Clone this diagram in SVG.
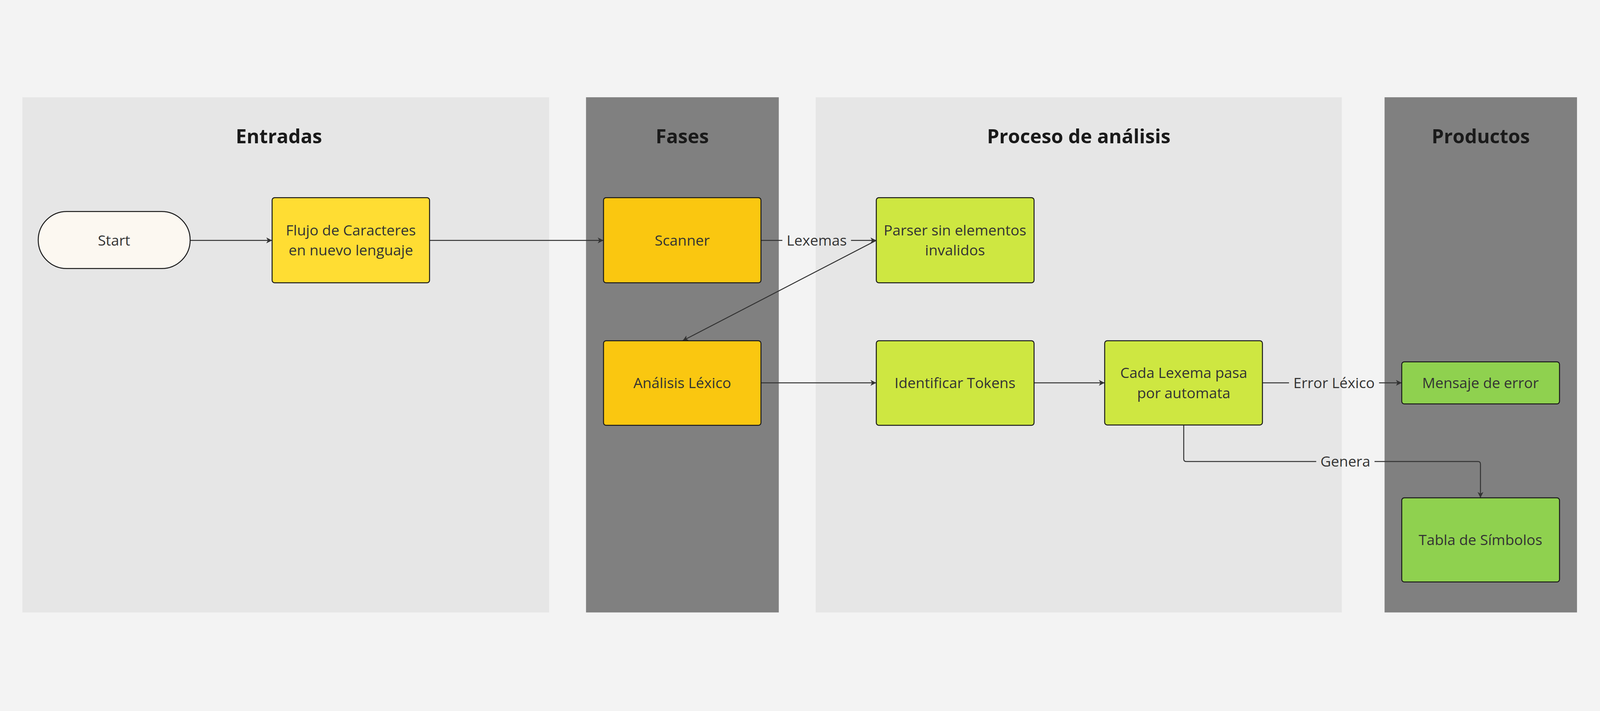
<svg xmlns="http://www.w3.org/2000/svg" width="4939" height="1821" viewBox="0 0 4939 1821">
<style>
svg{width:100vw;height:100vh}
.lane-l{fill:#e6e6e6}
.lane-d{fill:#808080}
.title{font-family:"Open Sans","Noto Sans",sans-serif;font-weight:700;font-size:60px;fill:#1a1a1a;text-anchor:middle}
.node{stroke:#1a1a1a;stroke-width:3}
.txt{font-family:"Open Sans","Noto Sans",sans-serif;font-size:45px;fill:#333333;text-anchor:middle}
.edge{fill:none;stroke:#333333;stroke-width:3}
.lbl{font-family:"Open Sans","Noto Sans",sans-serif;font-size:45px;fill:#333333;text-anchor:middle}
</style>
<defs>
<marker id="arr" markerUnits="userSpaceOnUse" markerWidth="20" markerHeight="20" refX="18" refY="9" orient="auto" viewBox="0 0 20 18">
<path d="M0,0 L18,9 L0,18 L5,9 Z" fill="#333333"/>
</marker>
</defs>
<rect x="-1000" y="-1000" width="6939" height="3821" fill="#f3f3f3"/>
<g id="lanes">
<rect class="lane-l" x="69" y="113" width="1626" height="1591"/>
<rect class="lane-d" x="1809" y="113" width="595" height="1591"/>
<rect class="lane-l" x="2518" y="113" width="1624" height="1591"/>
<rect class="lane-d" x="4274" y="113" width="594" height="1591"/>
<text class="title" x="861" y="255">Entradas</text>
<text class="title" x="2106" y="255">Fases</text>
<text class="title" x="3330" y="255">Proceso de análisis</text>
<text class="title" x="4571" y="255">Productos</text>
</g>
<g id="connectors">
<path class="edge" d="M587,555 L840,555" marker-end="url(#arr)"/>
<path class="edge" d="M1326,555 L1863,555" marker-end="url(#arr)"/>
<path class="edge" d="M2349,555 L2415,555"/>
<path class="edge" d="M2627,555 L2705,555" marker-end="url(#arr)"/>
<text class="lbl" x="2521" y="571">Lexemas</text>
<path class="edge" d="M2705,555 L2107,865" marker-end="url(#arr)"/>
<path class="edge" d="M2349,995 L2705,995" marker-end="url(#arr)"/>
<path class="edge" d="M3192,995 L3410,995" marker-end="url(#arr)"/>
<path class="edge" d="M3897,995 L3979,995"/>
<path class="edge" d="M4257,995 L4327,995" marker-end="url(#arr)"/>
<text class="lbl" x="4118" y="1011">Error Léxico</text>
<path class="edge" d="M3654,1125 L3654,1230 Q3654,1238 3662,1238 L4063,1238"/>
<path class="edge" d="M4243,1238 L4562,1238 Q4570,1238 4570,1246 L4570,1350" marker-end="url(#arr)"/>
<text class="lbl" x="4153" y="1254">Genera</text>
</g>
<g id="start">
<rect class="node" x="118" y="466" width="469" height="176" rx="88" fill="#fcf8f1"/>
<text class="txt" x="352" y="571">Start</text>
</g>
<g id="flujo">
<rect class="node" x="840" y="423" width="486" height="263" rx="8" fill="#ffdd33"/>
<text class="txt" x="1083" y="540">Flujo de Caracteres</text>
<text class="txt" x="1083" y="601">en nuevo lenguaje</text>
</g>
<g id="scanner">
<rect class="node" x="1863" y="423" width="486" height="263" rx="8" fill="#fac710"/>
<text class="txt" x="2106" y="571">Scanner</text>
</g>
<g id="analisis">
<rect class="node" x="1863" y="865" width="486" height="261" rx="8" fill="#fac710"/>
<text class="txt" x="2106" y="1011">Análisis Léxico</text>
</g>
<g id="parser">
<rect class="node" x="2705" y="423" width="487" height="263" rx="8" fill="#cee741"/>
<text class="txt" x="2948" y="540">Parser sin elementos</text>
<text class="txt" x="2948" y="601">invalidos</text>
</g>
<g id="identificar">
<rect class="node" x="2705" y="865" width="487" height="261" rx="8" fill="#cee741"/>
<text class="txt" x="2948" y="1011">Identificar Tokens</text>
</g>
<g id="cada">
<rect class="node" x="3410" y="865" width="487" height="260" rx="8" fill="#cee741"/>
<text class="txt" x="3654" y="980">Cada Lexema pasa</text>
<text class="txt" x="3654" y="1042">por automata</text>
</g>
<g id="mensaje">
<rect class="node" x="4327" y="930" width="487" height="130" rx="8" fill="#8fd14f"/>
<text class="txt" x="4570" y="1011">Mensaje de error</text>
</g>
<g id="tabla">
<rect class="node" x="4327" y="1350" width="487" height="260" rx="8" fill="#8fd14f"/>
<text class="txt" x="4570" y="1496">Tabla de Símbolos</text>
</g>
</svg>
